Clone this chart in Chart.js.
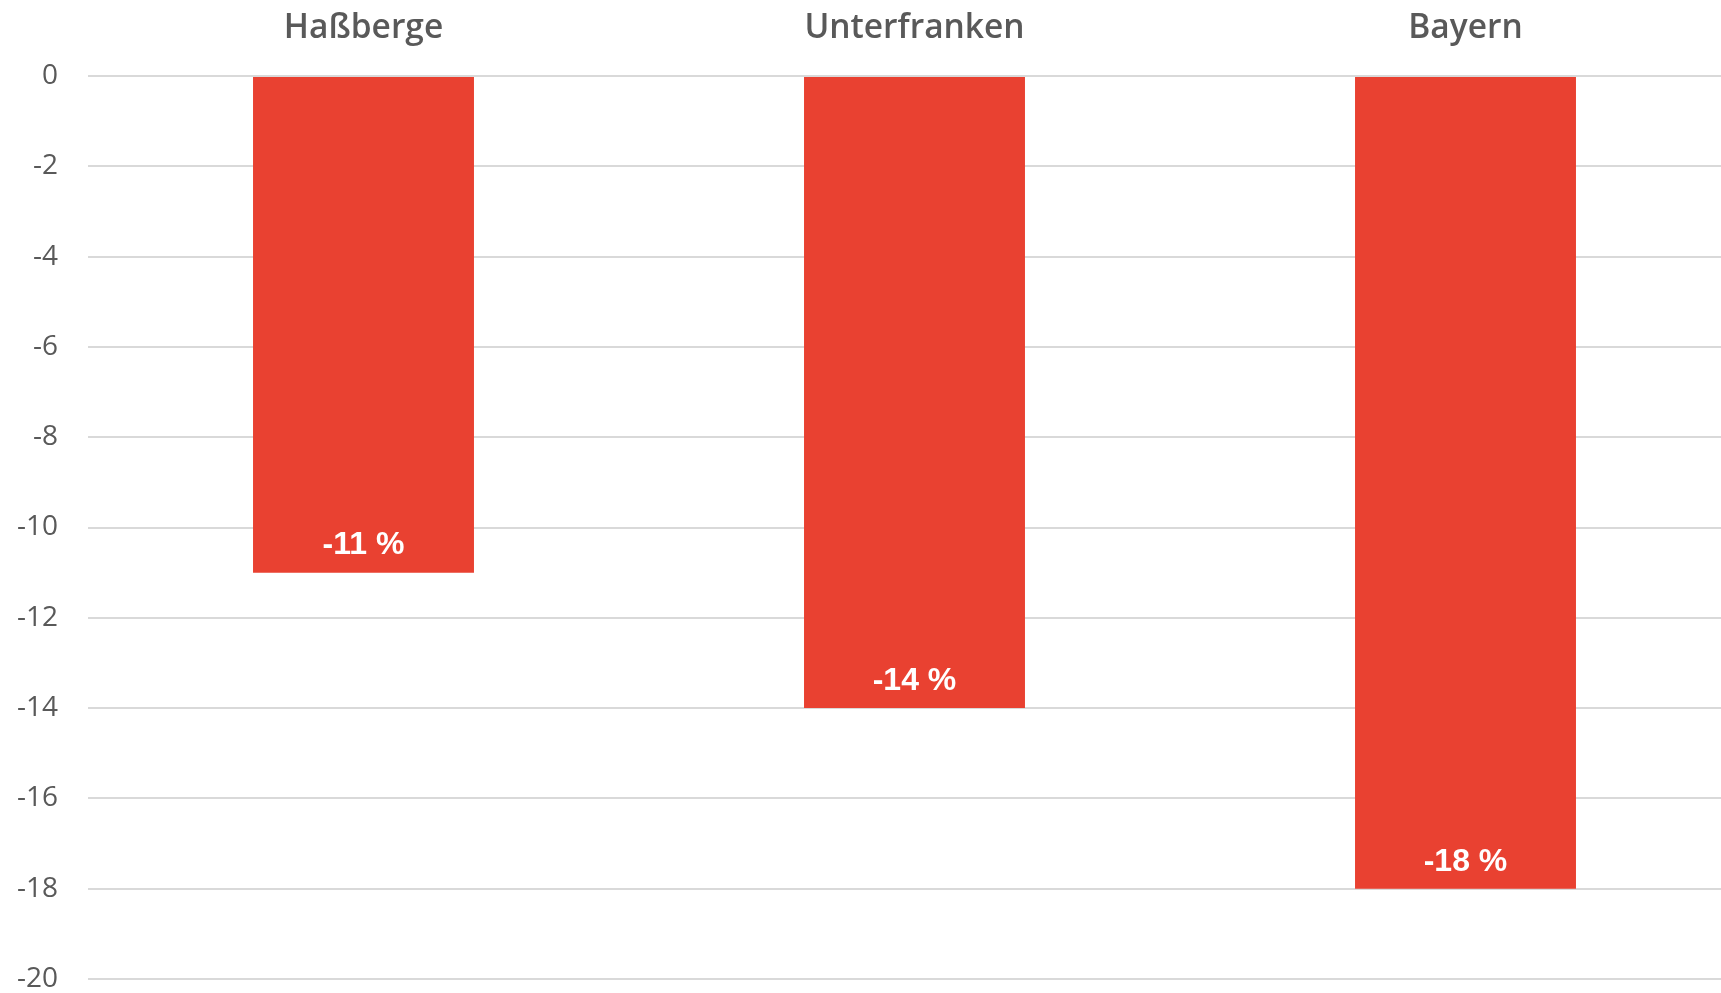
<!DOCTYPE html>
<html>
<head>
<meta charset="utf-8">
<script src="https://cdn.jsdelivr.net/npm/chart.js@4/dist/chart.umd.min.js"></script>
<style>
  html, body { margin: 0; padding: 0; background: #fff; overflow: hidden; }
  #wrap { width: 1741px; height: 993px; }
</style>
</head>
<body>
<div id="wrap"><canvas id="c"></canvas></div>
<script>
    const regions = ['Haßberge', 'Unterfranken', 'Bayern'];
    const change = [-11, -14, -18];
    const valueLabels = ['-11 %', '-14 %', '-18 %'];

    // Values written inside the bars, near their lower end
    const barLabels = {
        id: 'barLabels',
        afterDatasetsDraw(chart) {
            const c = chart.ctx;
            const meta = chart.getDatasetMeta(0);
            c.save();
            c.fillStyle = '#ffffff';
            c.font = 'bold 32px "Liberation Sans", Arial, sans-serif';
            c.textAlign = 'center';
            c.textBaseline = 'middle';
            meta.data.forEach((bar, i) => {
                c.fillText(valueLabels[i], bar.x, bar.y - 27);
            });
            c.restore();
        }
    };

    new Chart(document.getElementById('c'), {
        type: 'bar',
        data: {
            labels: regions,
            datasets: [{
                data: change,
                backgroundColor: '#E94131',
                borderWidth: 0,
                categoryPercentage: 1,
                barPercentage: 0.401
            }]
        },
        options: {
            responsive: true,
            maintainAspectRatio: false,
            animation: false,
            layout: { padding: { top: 11, bottom: 14, left: 0, right: 0 } },
            plugins: {
                legend: { display: false },
                tooltip: { enabled: false }
            },
            scales: {
                x: {
                    position: 'top',
                    afterFit(scale) { scale.height = 65; },
                    grid: { display: false, drawTicks: false },
                    border: { display: false },
                    ticks: {
                        color: '#595959',
                        padding: 31,
                        font: { family: '"Open Sans", "Noto Sans", sans-serif', size: 33.5, weight: '600', lineHeight: 1 }
                    }
                },
                y: {
                    min: -20,
                    max: 0,
                    afterFit(scale) {
                        scale.width = 88;
                        scale.paddingTop = 0;
                        scale.paddingBottom = 0;
                    },
                    grid: { color: '#d9d9d9', lineWidth: 2, drawTicks: false },
                    border: { display: false },
                    ticks: {
                        stepSize: 2,
                        color: '#595959',
                        padding: 30,
                        font: { family: '"Open Sans", "Noto Sans", sans-serif', size: 28, lineHeight: 1 }
                    }
                }
            }
        },
        plugins: [barLabels]
    });
</script>
</body>
</html>
